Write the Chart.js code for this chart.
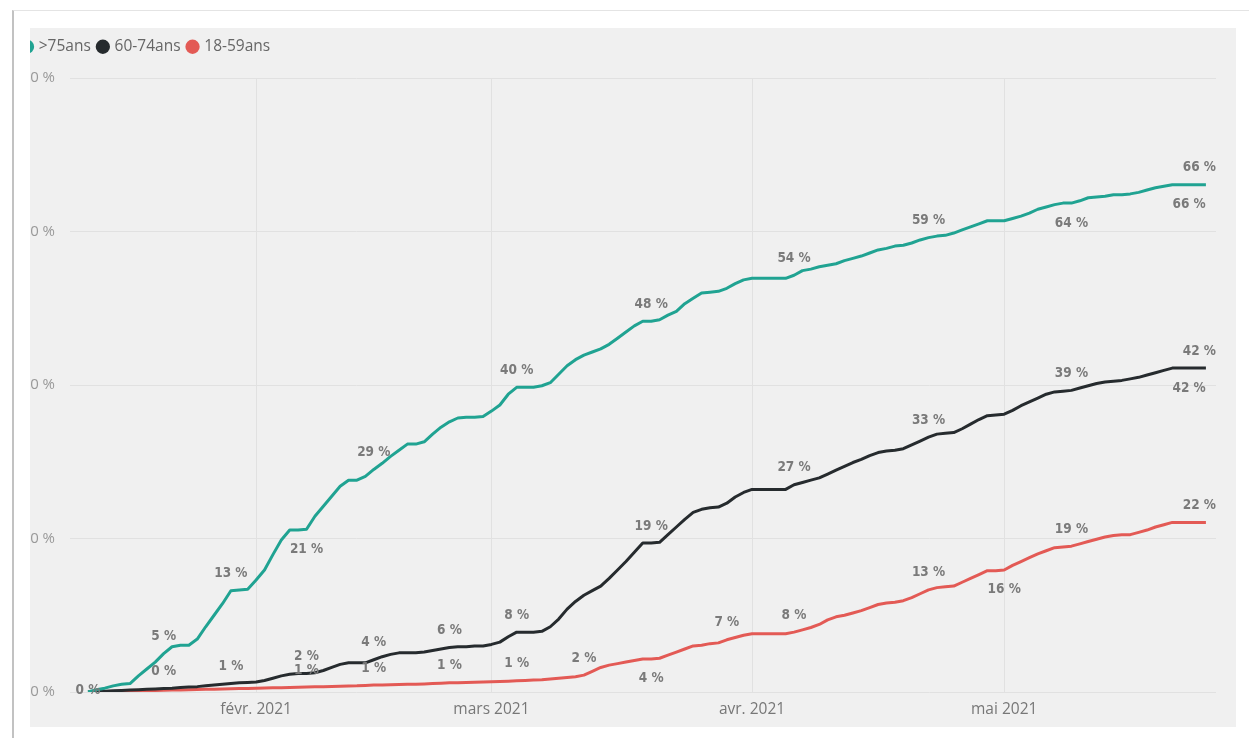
<!DOCTYPE html>
<html lang="fr">
<head>
<meta charset="utf-8">
<title>Couverture vaccinale par âge</title>
<script src="https://cdn.jsdelivr.net/npm/chart.js@4.4.1/dist/chart.umd.min.js"></script>
<style>
  html, body { margin: 0; padding: 0; background: #fff; }
  body { width: 1249px; height: 738px; position: relative; overflow: hidden; }
  .card { position: absolute; left: 12px; top: 10px; right: 0; bottom: -10px;
          border-top: 1px solid #e4e4e4; border-left: 2px solid #c2c2c2; }
  .panel { position: absolute; left: 30px; top: 28px; width: 1206px; height: 699px;
           background: #f0f0f0; overflow: hidden; }
  .chart-box { position: absolute; left: -15px; top: 0; width: 1221px; height: 699px; }
</style>
</head>
<body>
<div class="card"></div>
<div class="panel">
  <div class="chart-box"><canvas id="coverage-chart"></canvas></div>
</div>

<script>
// days counted from 1 Jan 2021 (day 11 = 12 janv., day 144 = 25 mai)
const firstDay = 11;
const lastDay = 144;
const days = [];
for (let d = firstDay; d <= lastDay; d++) days.push(d);

const seriesNames = ['>75ans', '60-74ans', '18-59ans'];

// cumulative share vaccinated (%), one value per day
const over75 = [
  0, 0.3, 0.5, 0.8, 1.0, 1.1, 2.1, 3.0, 3.9, 5.0,
  5.9, 6.1, 6.1, 6.9, 8.5, 10.0, 11.5, 13.2, 13.3, 13.4,
  14.6, 15.9, 17.9, 19.8, 21.1, 21.1, 21.2, 22.9, 24.2, 25.5,
  26.8, 27.6, 27.6, 28.1, 29.0, 29.8, 30.7, 31.5, 32.3, 32.3,
  32.6, 33.6, 34.5, 35.2, 35.7, 35.8, 35.8, 35.9, 36.6, 37.4,
  38.8, 39.7, 39.7, 39.7, 39.9, 40.3, 41.4, 42.5, 43.3, 43.9,
  44.3, 44.7, 45.3, 46.1, 46.9, 47.7, 48.3, 48.3, 48.5, 49.1,
  49.6, 50.6, 51.3, 52.0, 52.1, 52.2, 52.6, 53.2, 53.7, 53.9,
  53.9, 53.9, 53.9, 53.9, 54.3, 54.9, 55.1, 55.4, 55.6, 55.8,
  56.2, 56.5, 56.8, 57.2, 57.6, 57.8, 58.1, 58.2, 58.5, 58.9,
  59.2, 59.4, 59.5, 59.8, 60.2, 60.6, 61.0, 61.4, 61.4, 61.4,
  61.7, 62.0, 62.4, 62.9, 63.2, 63.5, 63.7, 63.7, 64.0, 64.4,
  64.5, 64.6, 64.8, 64.8, 64.9, 65.1, 65.4, 65.7, 65.9, 66.1,
  66.1, 66.1, 66.1, 66.1
];

const age60to74 = [
  0, 0.05, 0.1, 0.15, 0.2, 0.25, 0.3, 0.35, 0.4, 0.45,
  0.5, 0.6, 0.65, 0.7, 0.8, 0.9, 1.0, 1.1, 1.2, 1.25,
  1.3, 1.5, 1.8, 2.1, 2.3, 2.4, 2.4, 2.5, 2.8, 3.2,
  3.6, 3.8, 3.8, 3.8, 4.2, 4.6, 4.9, 5.1, 5.1, 5.1,
  5.2, 5.4, 5.6, 5.8, 5.9, 5.9, 6.0, 6.0, 6.2, 6.5,
  7.2, 7.8, 7.8, 7.8, 7.9, 8.5, 9.5, 10.8, 11.8, 12.6,
  13.2, 13.8, 14.8, 15.9, 17.0, 18.2, 19.4, 19.4, 19.5, 20.5,
  21.5, 22.5, 23.4, 23.8, 24.0, 24.1, 24.6, 25.4, 26.0, 26.4,
  26.4, 26.4, 26.4, 26.4, 27.0, 27.3, 27.6, 27.9, 28.4, 28.9,
  29.4, 29.9, 30.3, 30.8, 31.2, 31.4, 31.5, 31.7, 32.2, 32.7,
  33.2, 33.6, 33.7, 33.8, 34.3, 34.9, 35.5, 36.0, 36.1, 36.2,
  36.7, 37.3, 37.8, 38.3, 38.8, 39.1, 39.2, 39.3, 39.6, 39.9,
  40.2, 40.4, 40.5, 40.6, 40.8, 41.0, 41.3, 41.6, 41.9, 42.2,
  42.2, 42.2, 42.2, 42.2
];

const age18to59 = [
  0, 0.02, 0.05, 0.07, 0.1, 0.12, 0.15, 0.17, 0.2, 0.22,
  0.25, 0.27, 0.3, 0.32, 0.35, 0.37, 0.4, 0.42, 0.45, 0.47,
  0.5, 0.52, 0.55, 0.57, 0.6, 0.62, 0.65, 0.67, 0.7, 0.72,
  0.75, 0.78, 0.8, 0.85, 0.9, 0.92, 0.95, 0.98, 1.0, 1.02,
  1.05, 1.1, 1.15, 1.2, 1.22, 1.25, 1.28, 1.3, 1.33, 1.36,
  1.4, 1.45, 1.5, 1.55, 1.6, 1.7, 1.8, 1.9, 2.0, 2.2,
  2.7, 3.2, 3.5, 3.7, 3.9, 4.1, 4.3, 4.3, 4.4, 4.8,
  5.2, 5.6, 6.0, 6.1, 6.3, 6.4, 6.8, 7.1, 7.4, 7.6,
  7.6, 7.6, 7.6, 7.6, 7.8, 8.1, 8.4, 8.8, 9.4, 9.8,
  10.0, 10.3, 10.6, 11.0, 11.4, 11.6, 11.7, 11.9, 12.3, 12.8,
  13.3, 13.6, 13.7, 13.8, 14.3, 14.8, 15.3, 15.8, 15.8, 15.9,
  16.5, 17.0, 17.5, 18.0, 18.4, 18.8, 18.9, 19.0, 19.3, 19.6,
  19.9, 20.2, 20.4, 20.5, 20.5, 20.8, 21.1, 21.5, 21.8, 22.1,
  22.1, 22.1, 22.1, 22.1
];

const seriesValues = [over75, age60to74, age18to59];
const seriesColors = ['#20a392', '#262b2e', '#e35a55'];

// x axis ticks: first day of each month
const monthTicks = [31, 59, 90, 120];
const monthLabels = ['févr. 2021', 'mars 2021', 'avr. 2021', 'mai 2021'];

// y axis ticks
const pctTicks = [0, 20, 40, 60, 80];

// which points carry a value label: [series, day, side]
const labelSpots = [
  [0, 20, 'above'], [0, 28, 'above'], [0, 37, 'below'], [0, 45, 'above'],
  [0, 62, 'above'], [0, 78, 'above'], [0, 95, 'above'], [0, 111, 'above'],
  [0, 128, 'below'], [0, 144, 'above'], [0, 142, 'below'],
  [1, 20, 'above'], [1, 28, 'above'], [1, 37, 'above'], [1, 45, 'above'],
  [1, 54, 'above'], [1, 62, 'above'], [1, 78, 'above'], [1, 95, 'above'],
  [1, 111, 'above'], [1, 128, 'above'], [1, 144, 'above'], [1, 142, 'below'],
  [2, 11, 'on'], [2, 37, 'above'], [2, 45, 'above'], [2, 54, 'above'],
  [2, 62, 'above'], [2, 70, 'above'], [2, 78, 'below'], [2, 87, 'above'],
  [2, 95, 'above'], [2, 111, 'above'], [2, 120, 'below'], [2, 128, 'above'],
  [2, 144, 'above']
];

const gridColor = '#e1e1e1';

// extra room under the legend
const legendSpacer = {
  id: 'legendSpacer',
  beforeInit(chart) {
    const origFit = chart.legend.fit;
    chart.legend.fit = function fit() {
      origFit.bind(chart.legend)();
      this.height = 47;
    };
  }
};

// value labels next to the line points
const pointLabels = {
  id: 'pointLabels',
  afterDatasetsDraw(chart) {
    const ctx = chart.ctx;
    const area = chart.chartArea;
    ctx.save();
    ctx.font = 'bold 13.5px "DejaVu Sans Condensed"';
    ctx.fillStyle = '#7a7a7a';
    ctx.textAlign = 'center';
    ctx.textBaseline = 'middle';
    labelSpots.forEach(([s, day, side]) => {
      const i = days.indexOf(day);
      const pt = chart.getDatasetMeta(s).data[i];
      if (!pt) return;
      const text = Math.round(seriesValues[s][i]) + ' %';
      const w = ctx.measureText(text).width;
      const x = Math.min(pt.x, area.right - w / 2);
      let y = pt.y - 2;
      if (side === 'above') y = pt.y - 17;
      if (side === 'below') y = pt.y + 20;
      ctx.fillText(text, x, y);
    });
    ctx.restore();
  }
};

document.addEventListener('DOMContentLoaded', function() {
  const ctx = document.getElementById('coverage-chart');

  new Chart(ctx, {
    type: 'line',
    data: {
      labels: days,
      datasets: seriesNames.map((name, k) => ({
        label: name,
        data: seriesValues[k],
        borderColor: seriesColors[k],
        backgroundColor: seriesColors[k],
        borderWidth: 3,
        pointRadius: 0,
        tension: 0,
        borderJoinStyle: 'round'
      }))
    },
    options: {
      responsive: true,
      maintainAspectRatio: false,
      animation: false,
      layout: { padding: { left: 0, right: 20, top: 3, bottom: 0 } },
      plugins: {
        legend: {
          position: 'top',
          align: 'start',
          labels: {
            usePointStyle: true,
            pointStyle: 'circle',
            boxWidth: 8,
            boxHeight: 8,
            padding: 8,
            color: '#666',
            font: { family: '"Open Sans"', size: 15.5 }
          }
        },
        tooltip: { enabled: false }
      },
      scales: {
        x: {
          type: 'linear',
          min: 8.86,
          max: 145.2,
          afterBuildTicks: (scale) => {
            scale.ticks = monthTicks.map(v => ({ value: v }));
          },
          afterFit: (scale) => { scale.height = 35; },
          ticks: {
            autoSkip: false,
            maxRotation: 0,
            padding: 8,
            color: '#777',
            font: { family: '"Open Sans"', size: 15.5 },
            callback: (v) => monthLabels[monthTicks.indexOf(v)]
          },
          grid: { color: gridColor, drawTicks: false },
          border: { display: false }
        },
        y: {
          min: 0,
          max: 80,
          afterBuildTicks: (scale) => {
            scale.ticks = pctTicks.map(v => ({ value: v }));
          },
          afterFit: (scale) => { scale.width = 55; },
          ticks: {
            padding: 15,
            color: '#999',
            font: { family: '"Open Sans"', size: 15 },
            callback: (v) => v + ' %'
          },
          grid: { color: gridColor, drawTicks: false },
          border: { display: false }
        }
      }
    },
    plugins: [legendSpacer, pointLabels]
  });
});
</script>
</body>
</html>
